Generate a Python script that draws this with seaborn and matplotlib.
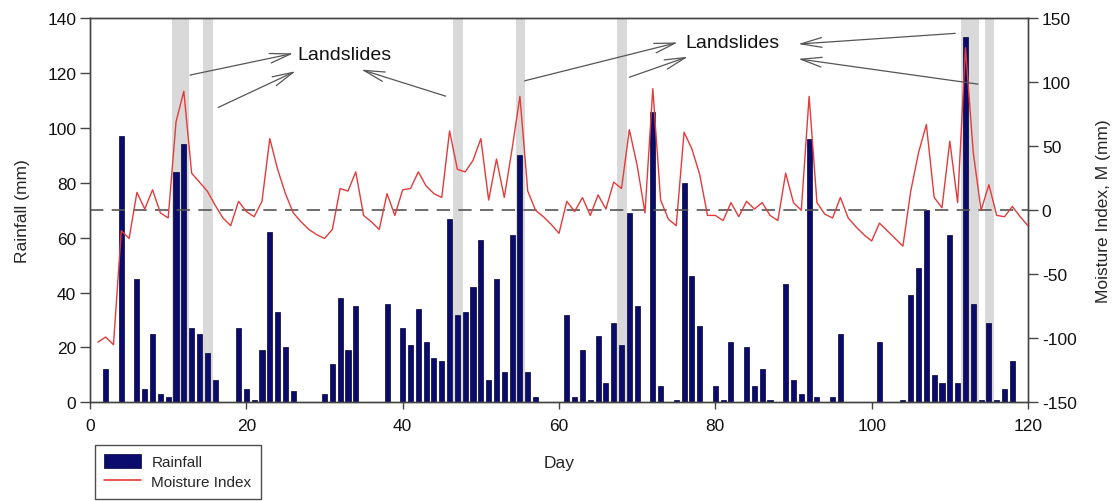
import numpy as np
import pandas as pd
import matplotlib
matplotlib.use("Agg")
import matplotlib.pyplot as plt
from matplotlib.patches import Patch
from matplotlib.lines import Line2D
import seaborn as sns

# ---------------- data ----------------
rain_days = [2, 4, 6, 7, 8, 9, 10, 11, 12, 13, 14, 15, 16, 19, 20, 21, 22, 23, 24, 25, 26,
             30, 31, 32, 33, 34, 38, 40, 41, 42, 43, 44, 45, 46, 47, 48, 49, 50, 51, 52, 53,
             54, 55, 56, 57, 61, 62, 63, 64, 65, 66, 67, 68, 69, 70, 72, 73, 75, 76, 77, 78,
             80, 81, 82, 84, 85, 86, 87, 89, 90, 91, 92, 93, 95, 96, 101, 104, 105, 106, 107,
             108, 109, 110, 111, 112, 113, 114, 115, 116, 117, 118]
rainfall = [12, 97, 45, 5, 25, 3, 2, 84, 94, 27, 25, 18, 8, 27, 5, 1, 19, 62, 33, 20, 4,
            3, 14, 38, 19, 35, 36, 27, 21, 34, 22, 16, 15, 67, 32, 33, 42, 59, 8, 45, 11,
            61, 90, 11, 2, 32, 2, 19, 1, 24, 7, 29, 21, 69, 35, 106, 6, 1, 80, 46, 28,
            6, 1, 22, 20, 6, 12, 1, 43, 8, 3, 96, 2, 2, 25, 22, 1, 39, 49, 70,
            10, 7, 61, 7, 133, 36, 1, 29, 1, 5, 15]

moist_days = list(range(1, 121))
moisture = [-103, -99, -105, -16, -22, 14, 1, 16, -2, -6,
            69, 93, 29, 22, 15, 4, -6, -12, 7, -1,
            -5, 7, 56, 32, 13, -2, -9, -15, -19, -22,
            -15, 17, 15, 30, -4, -9, -15, 13, -4, 16,
            17, 30, 19, 13, 10, 62, 32, 30, 39, 56,
            8, 40, 10, 48, 89, 15, 0, -5, -11, -18,
            7, -1, 10, -4, 12, 1, 22, 17, 63, 35,
            -2, 95, 8, -7, -12, 61, 48, 28, -4, -4,
            -8, 6, -5, 7, 1, 6, -4, -8, 29, 6,
            0, 89, 6, -3, -6, 10, -6, -13, -19, -24,
            -10, -16, -22, -28, 15, 45, 67, 10, 2, 54,
            6, 127, 45, 0, 20, -4, -5, 3, -5, -12]

landslide_days = [11, 12, 15, 47, 55, 68, 112, 113, 115]

x_ticks = [0, 20, 40, 60, 80, 100, 120]
rain_ticks = [0, 20, 40, 60, 80, 100, 120, 140]
moist_ticks = [-150, -100, -50, 0, 50, 100, 150]

label_text = "Landslides"
# ---------------------------------------

sns.set_style("ticks")
plt.rcParams["font.family"] = ["Liberation Sans", "DejaVu Sans"]
plt.rcParams["axes.unicode_minus"] = False

df_rain = pd.DataFrame({"Day": rain_days, "Rainfall": rainfall})
df_moist = pd.DataFrame({"Day": moist_days, "Moisture": moisture})

fig = plt.figure(figsize=(11.17, 5.02), dpi=100)
ax = fig.add_axes([0.0806, 0.1966, 0.8397, 0.765])

bar_color = "#0b0b6e"
line_color = "#e33b3b"
spine_color = "#444444"

# landslide bands
for d in landslide_days:
    ax.axvspan(d - 0.55, d + 0.7, color="#d9d9d9", lw=0, zorder=0)

sns.barplot(data=df_rain, x="Day", y="Rainfall", native_scale=True, width=0.65,
            color=bar_color, edgecolor="#000033", linewidth=0.5, saturation=1,
            ax=ax, zorder=2)

ax.set_xlim(0, 120)
ax.set_ylim(0, 140)
ax.set_xticks(x_ticks)
ax.set_yticks(rain_ticks)
ax.set_xlabel("Day", fontsize=12.5, labelpad=16)
ax.set_ylabel("Rainfall (mm)", fontsize=12.5, labelpad=12)

ax2 = ax.twinx()
ax2.axhline(0, color="#555555", lw=1.2, ls=(0, (8, 5)), zorder=1)
sns.lineplot(data=df_moist, x="Day", y="Moisture", color=line_color, lw=1.0, ax=ax2,
             zorder=3)
ax2.set_ylim(-150, 150)
ax2.set_yticks(moist_ticks)
ax2.set_ylabel("Moisture Index, M (mm)", fontsize=12.5, labelpad=14)
ax2.set_xlim(0, 120)

for a in (ax, ax2):
    for s in a.spines.values():
        s.set_color(spine_color)
        s.set_linewidth(1.0)
        s.set_visible(True)
    a.tick_params(axis="both", direction="out", length=7, width=1, color=spine_color,
                  labelsize=12.5, labelcolor="#111111", pad=3)
ax.tick_params(axis="x", length=5, pad=6)

# annotations
tx1, ty1 = 32.6, 126.7
tx2, ty2 = 82.2, 131.0
ax2.text(tx1, ty1, label_text, transform=ax.transData, ha="center", va="center",
         fontsize=14, color="#111111", zorder=5)
ax2.text(tx2, ty2, label_text, transform=ax.transData, ha="center", va="center",
         fontsize=14, color="#111111", zorder=5)

arrows = [((12.8, 119.3), (26.0, 127.2)),
          ((16.4, 107.5), (26.3, 120.7)),
          ((45.5, 111.6), (34.7, 121.3)),
          ((55.6, 117.2), (75.2, 131.2)),
          ((69.0, 118.5), (76.5, 126.0)),
          ((110.7, 134.5), (90.6, 130.6)),
          ((113.6, 116.0), (90.6, 125.2))]
for start, end in arrows:
    ax2.annotate("", xy=end, xytext=start, xycoords=ax.transData, textcoords=ax.transData,
                 arrowprops=dict(arrowstyle="->,head_length=1.5,head_width=0.35",
                                 color="#555555", lw=0.9, shrinkA=0, shrinkB=0),
                 zorder=5)

handles = [Patch(facecolor=bar_color, edgecolor="#000033", lw=0.5),
           Line2D([0], [0], color=line_color, lw=1.2)]
leg = fig.legend(handles, ["Rainfall", "Moisture Index"], loc="upper left",
                 bbox_to_anchor=(0.085, 0.112), frameon=True, fancybox=False,
                 edgecolor="#222222", fontsize=11, handlelength=2.4, handleheight=1.0,
                 handletextpad=0.7, borderpad=0.6, labelspacing=0.35, borderaxespad=0)
leg.get_frame().set_linewidth(1.0)

fig.savefig("out.png", dpi=100)
